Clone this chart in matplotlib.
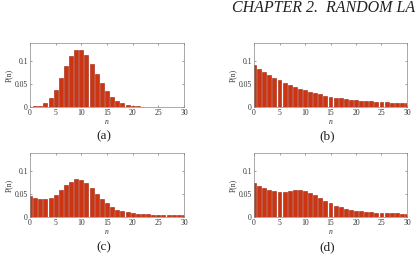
import matplotlib
matplotlib.use("Agg")
import matplotlib.pyplot as plt
import numpy as np

n = list(range(31))

p_a = [0.00005, 0.0005, 0.0023, 0.0076, 0.0189, 0.0378, 0.0631, 0.0901, 0.1126, 0.1251,
       0.1251, 0.1137, 0.0948, 0.0729, 0.0521, 0.0347, 0.0217, 0.0128, 0.0071, 0.0037,
       0.0019, 0.0009, 0.0004, 0.0002, 0.0001, 0.00004, 0.00002, 0.00001, 0.0, 0.0, 0.0]
p_b = [0.092, 0.084, 0.077, 0.070, 0.063, 0.058, 0.053, 0.047, 0.043, 0.039,
       0.036, 0.033, 0.030, 0.027, 0.024, 0.022, 0.020, 0.0185, 0.017, 0.0155,
       0.0148, 0.0133, 0.0126, 0.012, 0.011, 0.0104, 0.0096, 0.0089, 0.0081, 0.0074, 0.0074]
p_c = [0.0467, 0.042, 0.039, 0.039, 0.041, 0.047, 0.058, 0.069, 0.077, 0.083,
       0.081, 0.075, 0.063, 0.050, 0.039, 0.030, 0.021, 0.0155, 0.012, 0.0096,
       0.0074, 0.0067, 0.006, 0.0052, 0.0045, 0.0045, 0.0037, 0.0035, 0.003, 0.003, 0.003]
p_d = [0.075, 0.068, 0.063, 0.059, 0.057, 0.0555, 0.0555, 0.057, 0.0585, 0.0585,
       0.056, 0.052, 0.047, 0.041, 0.035, 0.030, 0.024, 0.021, 0.018, 0.0148,
       0.0133, 0.012, 0.0104, 0.0096, 0.009, 0.0085, 0.008, 0.0074, 0.0074, 0.0067, 0.0067]

panels = [("(a)", p_a), ("(b)", p_b), ("(c)", p_c), ("(d)", p_d)]
xticks = [0, 5, 10, 15, 20, 25, 30]
yticks = [0, 0.05, 0.1]
yticklabels = ["0", "0.05", "0.1"]

plt.rcParams['font.family'] = ['Liberation Serif', 'DejaVu Serif']

W, H = 417, 254
fig = plt.figure(figsize=(W / 100, H / 100), dpi=100)

positions = [
    (30, 43.3, 154, 63.4),
    (254, 43.3, 153, 63.4),
    (30, 153.3, 154, 63.4),
    (254, 153.3, 153, 63.4),
]
label_y = [136, 136, 247, 247]

for (lab, vals), (x0, y0, w, h), ly in zip(panels, positions, label_y):
    ax = fig.add_axes([x0 / W, 1 - (y0 + h) / H, w / W, h / H])
    ax.bar(n, vals, width=0.78, color="#cc3412", edgecolor="#a02008", linewidth=0.4)
    ax.set_xlim(0, 30)
    ax.set_ylim(0, 0.14)
    ax.set_xticks(xticks)
    ax.set_yticks(yticks)
    ax.set_yticklabels(yticklabels)
    ax.tick_params(direction="in", length=1.5, width=0.4, labelsize=5.5, pad=1.5,
                   top=True, right=True, colors="#555555", labelcolor="#333333")
    for s in ax.spines.values():
        s.set_color("#888888")
        s.set_linewidth(0.5)
    ax.set_xlabel("n", fontsize=5.5, labelpad=1, color="#333333", style="italic")
    ax.set_ylabel("P(n)", fontsize=5.5, labelpad=1, color="#333333")
    fig.text((x0 + w / 2 - 3) / W, 1 - ly / H, lab, fontsize=9.5, ha="center", va="center",
             color="#222222")

fig.text(232 / W, 1 - 12 / H, "CHAPTER 2.  RANDOM LA", fontsize=11.5, style="italic",
         ha="left", va="baseline", color="#222222")

fig.savefig("out.png", dpi=100)
